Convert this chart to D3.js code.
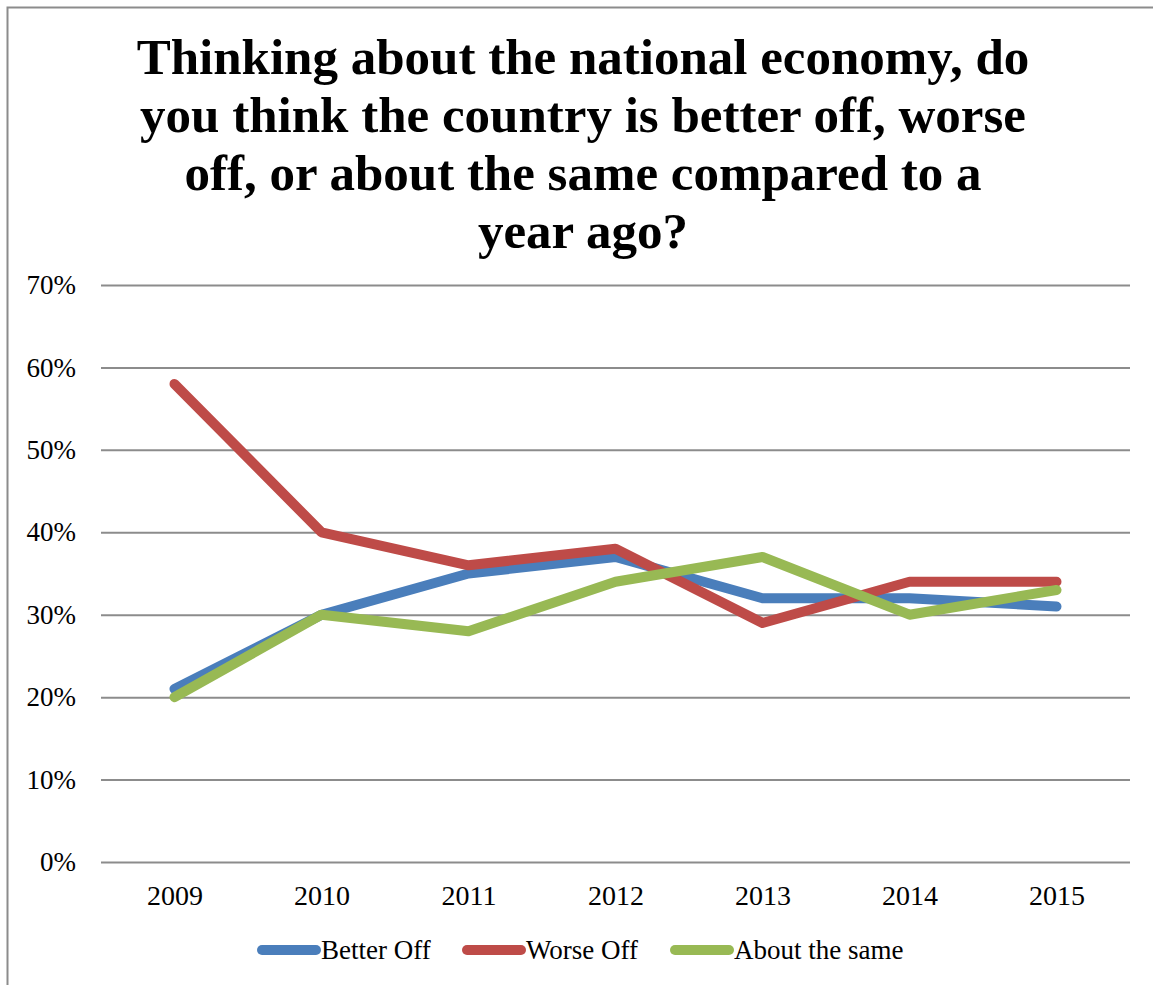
<!DOCTYPE html>
<html>
<head>
<meta charset="utf-8">
<script src="https://cdn.jsdelivr.net/npm/d3@7"></script>
<style>
  body { margin: 0; background: #fff; }
  svg text { font-family: "Liberation Serif", "DejaVu Serif", serif; fill: #000; }
</style>
</head>
<body>
<div class="canvas"></div>
<script>
// data
const years = ['2009', '2010', '2011', '2012', '2013', '2014', '2015'];
const betterOff = [21, 30, 35, 37, 32, 32, 31];
const worseOff = [58, 40, 36, 38, 29, 34, 34];
const aboutSame = [20, 30, 28, 34, 37, 30, 33];
const seriesNames = ['Better Off', 'Worse Off', 'About the same'];
const yTicks = [0, 10, 20, 30, 40, 50, 60, 70];
const titleLines = [
    'Thinking about the national economy, do',
    'you think the country is better off, worse',
    'off, or about the same compared to a',
    'year ago?'
];

const width = 1153, height = 985;
const colors = ['#4a7ebb', '#be4b48', '#98b954'];

const svg = d3.select('.canvas')
    .append('svg')
    .attr('width', width)
    .attr('height', height);

// chart frame (only top and left edges visible)
svg.append('path')
    .attr('d', `M7.5,${height} V7.5 H${width}`)
    .attr('fill', 'none')
    .attr('stroke', '#8c8c8c')
    .attr('stroke-width', 2);

// title
svg.append('g').selectAll('text')
    .data(titleLines)
    .enter().append('text')
    .attr('x', 583)
    .attr('y', (d, i) => 74 + i * 58)
    .attr('text-anchor', 'middle')
    .attr('font-size', 51)
    .attr('font-weight', 'bold')
    .text(d => d);

// scales
const margin = {top: 285, left: 101, right: 1130, bottom: 862};
const x = d3.scalePoint()
    .domain(years)
    .range([margin.left, margin.right])
    .padding(0.5);
const y = d3.scaleLinear()
    .domain([0, 70])
    .range([margin.bottom, margin.top]);

// gridlines + y axis
const yAxis = d3.axisLeft(y)
    .tickValues(yTicks)
    .tickSize(-(margin.right - margin.left))
    .tickPadding(25)
    .tickFormat(d => d + '%');

const yAxisGroup = svg.append('g')
    .attr('transform', `translate(${margin.left}, 0)`)
    .call(yAxis);
yAxisGroup.select('.domain').remove();
yAxisGroup.selectAll('line').attr('stroke', '#8c8c8c').attr('stroke-width', 2);
yAxisGroup.selectAll('text')
    .attr('font-size', 27)
    .attr('dy', '0.32em');

// x axis labels
const xAxis = d3.axisBottom(x).tickSize(0).tickPadding(23);
const xAxisGroup = svg.append('g')
    .attr('transform', `translate(0, ${margin.bottom})`)
    .call(xAxis);
xAxisGroup.select('.domain').remove();
xAxisGroup.selectAll('text').attr('font-size', 28);

// lines
const seriesData = [betterOff, worseOff, aboutSame];
const line = d3.line()
    .x((d, i) => x(years[i]))
    .y(d => y(d));

svg.append('g').selectAll('path')
    .data(seriesData)
    .enter().append('path')
    .attr('d', line)
    .attr('fill', 'none')
    .attr('stroke', (d, i) => colors[i])
    .attr('stroke-width', 10)
    .attr('stroke-linecap', 'round')
    .attr('stroke-linejoin', 'round');

// legend
const legendX = [262, 467, 675];
const legend = svg.append('g').selectAll('g')
    .data(seriesNames)
    .enter().append('g')
    .attr('transform', (d, i) => `translate(${legendX[i]}, 950)`);

legend.append('line')
    .attr('x1', 0).attr('x2', 54)
    .attr('stroke', (d, i) => colors[i])
    .attr('stroke-width', 10)
    .attr('stroke-linecap', 'round');

legend.append('text')
    .attr('x', 59)
    .attr('dy', '0.35em')
    .attr('font-size', 27)
    .text(d => d);
</script>
</body>
</html>
